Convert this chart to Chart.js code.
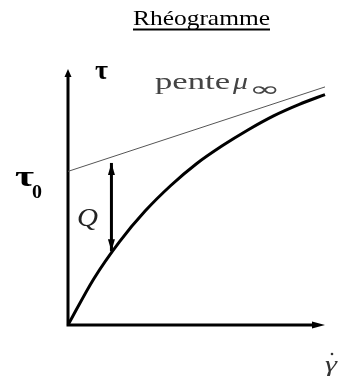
<!DOCTYPE html>
<html>
<head>
<meta charset="utf-8">
<script src="https://cdn.jsdelivr.net/npm/chart.js@4"></script>
<style>
  body { margin: 0; background: #fff; }
  canvas { display: block; }
</style>
</head>
<body>
<canvas id="rheogramme" width="345" height="376"></canvas>
<script>
// courbe d'écoulement (fluide de Bingham / plastique)
const gammaCourbe = [0, 1, 2, 3, 4, 5, 6, 7, 8, 9, 10];
const tauCourbe = [0, 1.8, 3.25, 4.45, 5.45, 6.3, 7.0, 7.62, 8.17, 8.62, 9.0];

// droite asymptotique de pente mu infini
const gammaPente = [0, 10];
const tauPente = [6.0, 9.3];

// fleche Q entre l'asymptote et la courbe
const gammaQ = [1.69, 1.69];
const tauQ = [2.88, 6.33];

function points(xs, ys) {
    return xs.map((x, i) => ({ x: x, y: ys[i] }));
}

function fleche(ctx, x, y, dx, dy, longueur, largeur) {
    // pointe en (x, y), orientée selon (dx, dy)
    const px = -dy, py = dx;
    ctx.beginPath();
    ctx.moveTo(x, y);
    ctx.lineTo(x - dx * longueur + px * largeur / 2, y - dy * longueur + py * largeur / 2);
    ctx.lineTo(x - dx * longueur - px * largeur / 2, y - dy * longueur - py * largeur / 2);
    ctx.closePath();
    ctx.fill();
}

function texte(ctx, str, x, y, font, largeur, color) {
    ctx.save();
    ctx.font = font;
    ctx.fillStyle = color || "#000";
    ctx.textBaseline = "alphabetic";
    const w = ctx.measureText(str).width;
    ctx.translate(x, y);
    if (largeur) ctx.scale(largeur / w, 1);
    ctx.fillText(str, 0, 0);
    ctx.restore();
}

const decor = {
    id: "decor",
    beforeDatasetsDraw(chart) {
        const ctx = chart.ctx;
        const xs = chart.scales.x, ys = chart.scales.y;
        const x0 = xs.getPixelForValue(0), y0 = ys.getPixelForValue(0);
        const xMax = xs.getPixelForValue(xs.max), yMax = ys.getPixelForValue(ys.max);
        ctx.save();
        ctx.strokeStyle = "#000";
        ctx.fillStyle = "#000";
        ctx.lineWidth = 3;
        ctx.beginPath();
        ctx.moveTo(x0, y0 + 1.5);
        ctx.lineTo(x0, yMax + 6);
        ctx.moveTo(x0 - 1.5, y0);
        ctx.lineTo(xMax - 10, y0);
        ctx.stroke();
        fleche(ctx, x0, yMax, 0, -1, 8, 7);
        fleche(ctx, xMax, y0, 1, 0, 13, 7);
        ctx.restore();
    },
    afterDatasetsDraw(chart) {
        const ctx = chart.ctx;
        const xs = chart.scales.x, ys = chart.scales.y;
        ctx.save();
        ctx.fillStyle = "#000";
        const qx = xs.getPixelForValue(gammaQ[0]);
        fleche(ctx, qx, ys.getPixelForValue(tauQ[1]), 0, -1, 12, 7);
        fleche(ctx, qx, ys.getPixelForValue(tauQ[0]), 0, 1, 12, 7);
        ctx.restore();

        // titre souligné
        texte(ctx, "Rhéogramme", 133, 25, "21px 'Liberation Serif'", 137);
        ctx.fillRect(133, 28.5, 137, 2);

        // étiquettes
        texte(ctx, "τ", 95, 79, "bold 27px 'Liberation Serif'", 13);
        texte(ctx, "pente", 155, 89, "23px 'Liberation Serif'", 75, "#444");
        texte(ctx, "μ", 233, 89, "italic 23px 'Liberation Serif'", 15, "#444");
        texte(ctx, "∞", 249, 96, "20px 'DejaVu Sans'", 31, "#444");
        texte(ctx, "τ", 15, 186, "bold 29px 'Liberation Serif'", 19);
        texte(ctx, "0", 32, 198, "bold 18px 'Liberation Serif'", 10);
        texte(ctx, "Q", 77, 226, "italic 25px 'Liberation Serif'", 21, "#222");
        texte(ctx, "γ", 325, 371, "italic 22px 'Liberation Serif'", 12, "#333");
        ctx.fillStyle = "#333";
        ctx.beginPath();
        ctx.arc(332, 354, 1.3, 0, Math.PI * 2);
        ctx.fill();
    }
};

new Chart(document.getElementById("rheogramme"), {
    type: "scatter",
    data: {
        datasets: [
            {
                label: "courbe",
                data: points(gammaCourbe, tauCourbe),
                showLine: true,
                borderColor: "#000",
                borderWidth: 3,
                pointRadius: 0,
                cubicInterpolationMode: "monotone",
                clip: false
            },
            {
                label: "pente",
                data: points(gammaPente, tauPente),
                showLine: true,
                borderColor: "#555",
                borderWidth: 1,
                pointRadius: 0,
                clip: false
            },
            {
                label: "Q",
                data: points(gammaQ, tauQ),
                showLine: true,
                borderColor: "#000",
                borderWidth: 3,
                pointRadius: 0,
                clip: false
            }
        ]
    },
    options: {
        responsive: false,
        animation: false,
        layout: { padding: { left: 68, right: 20, top: 69, bottom: 51 } },
        scales: {
            x: { type: "linear", min: 0, max: 10, display: false },
            y: { type: "linear", min: 0, max: 10, display: false }
        },
        plugins: {
            legend: { display: false },
            tooltip: { enabled: false }
        }
    },
    plugins: [decor]
});
</script>
</body>
</html>
